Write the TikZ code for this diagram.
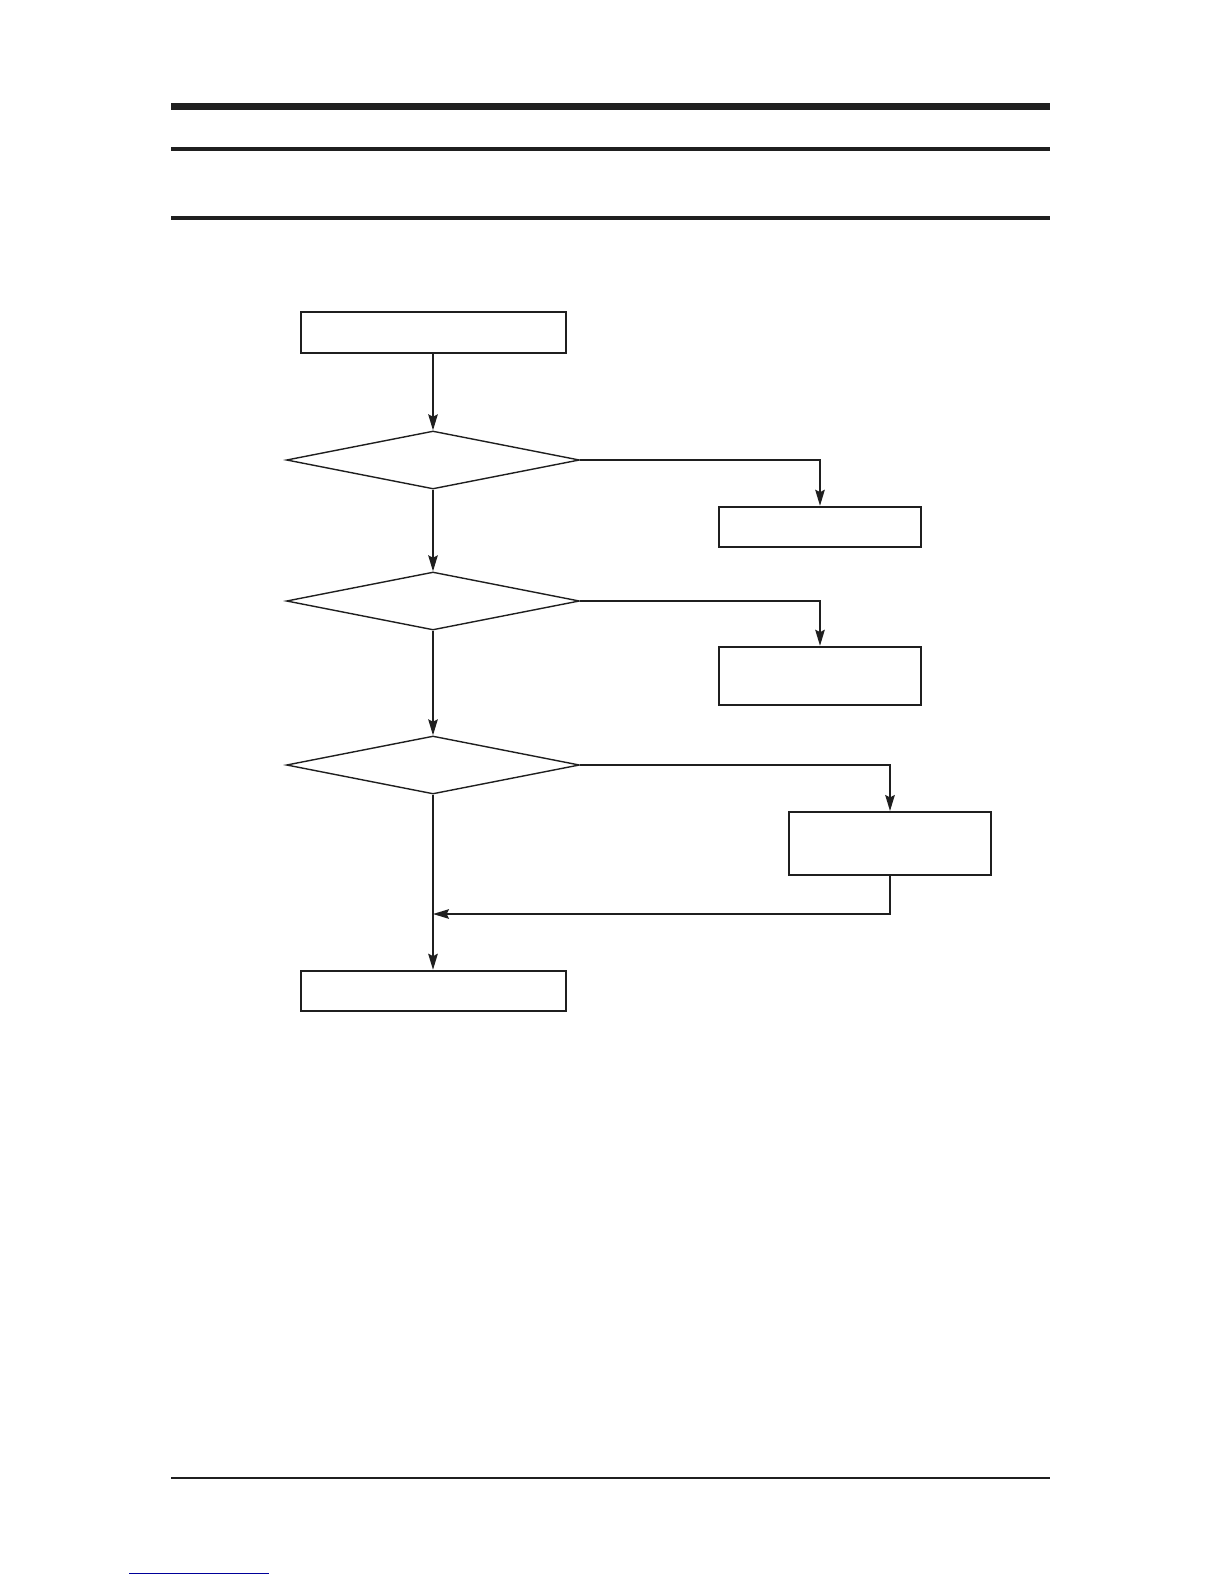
\documentclass[tikz,border=0pt]{standalone}
\usetikzlibrary{shapes.geometric,arrows.meta}
\begin{document}
\begin{tikzpicture}[x=0.5pt,y=-0.5pt,
  box/.style={draw=black!88,line width=1pt,rectangle,inner sep=0pt,minimum width=101pt},
  dec/.style={draw=black!88,line width=0.7pt,diamond,inner sep=0pt,minimum width=146.5pt,minimum height=29pt},
  conn/.style={draw=black!88,line width=0.7pt},
  arr/.style={conn,-{Stealth[length=8pt,width=4.8pt,inset=1.2pt]}},
  rule/.style={draw=black!88}]
\useasboundingbox (0,0) rectangle (1224,1584);
% page rules
\draw[rule,line width=3.3pt] (171,106.5) -- (1050,106.5);
\draw[rule,line width=1.8pt] (171,149) -- (1050,149);
\draw[rule,line width=2.3pt] (171,218) -- (1050,218);
\draw[rule,line width=1pt] (171,1478) -- (1050,1478);
\draw[blue!60!black,line width=0.6pt] (129,1573.5) -- (269,1573.5);
% nodes
\node[box,minimum width=132.75pt,minimum height=20.75pt] (start) at (433.5,332.5) {};
\node[dec] (d1) at (433,460) {};
\node[dec] (d2) at (433,601) {};
\node[dec] (d3) at (433,765) {};
\node[box,minimum height=20.25pt] (a) at (820,527) {};
\node[box,minimum height=29.25pt] (b) at (820,676) {};
\node[box,minimum height=31.5pt] (c) at (890,843.5) {};
\node[box,minimum width=132.75pt,minimum height=20.25pt] (end) at (433.5,991) {};
\coordinate (m) at (433,914);
% connectors
\draw[arr] (start.south -| d1.north) -- (d1.north);
\draw[arr] (d1.south) -- (d2.north);
\draw[arr] (d2.south) -- (d3.north);
\draw[arr] (d3.south) -- (d3.south |- end.north);
\draw[arr] (d1.east) -| (a.north);
\draw[arr] (d2.east) -| (b.north);
\draw[arr] (d3.east) -| (c.north);
\draw[arr] (c.south) |- (m);
\end{tikzpicture}
\end{document}
